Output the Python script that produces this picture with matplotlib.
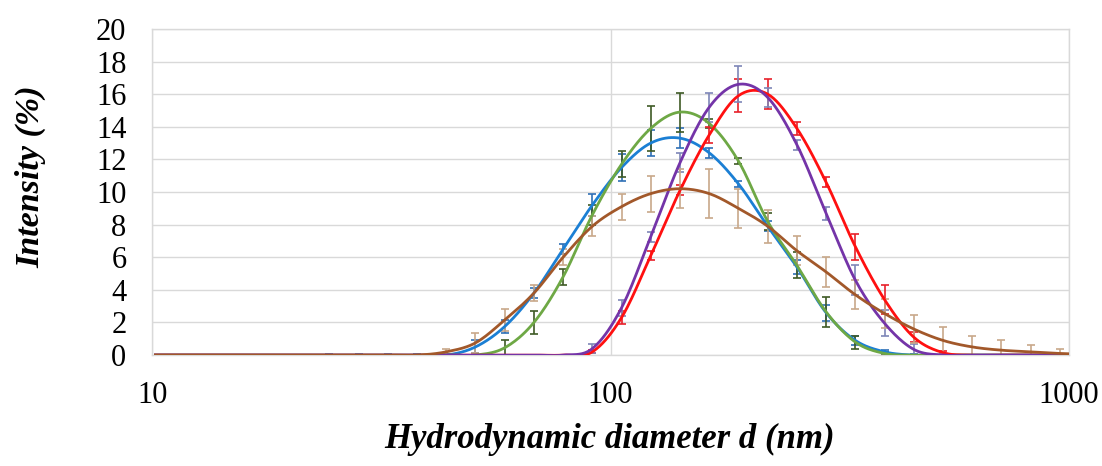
import matplotlib
matplotlib.use("Agg")
import matplotlib.pyplot as plt
import numpy as np

# size classes (nm)
sizes = [10.10, 11.70, 13.54, 15.69, 18.17, 21.04, 24.36, 28.21, 32.67, 37.84,
         43.82, 50.75, 58.77, 68.06, 78.82, 91.28, 105.7, 122.4, 141.8, 164.2,
         190.1, 220.2, 255.0, 295.3, 342.0, 396.1, 458.7, 531.2, 615.1, 712.4,
         825.0, 955.4, 1106]

blue = [0, 0, 0, 0, 0, 0, 0, 0, 0, 0, 0, 0.5, 1.75, 3.8, 6.5, 9.2, 11.5, 13.0, 13.3,
        12.4, 10.5, 7.9, 5.4, 2.6, 0.9, 0.2, 0, 0, 0, 0, 0, 0, 0]
blue_err = [0, 0, 0, 0, 0, 0, 0.05, 0.05, 0.05, 0.05, 0.05, 0.4, 0.4, 0.3, 0.3, 0.7,
            0.8, 0.8, 0.6, 0.3, 0.2, 0.3, 0.4, 0.5, 0.3, 0.1, 0.05, 0, 0, 0, 0, 0, 0]

green = [0, 0, 0, 0, 0, 0, 0, 0, 0, 0, 0, 0, 0.45, 2.0, 4.8, 8.6, 11.7, 13.9, 14.9,
         14.2, 11.9, 8.2, 5.5, 2.65, 0.8, 0.1, 0, 0, 0, 0, 0, 0, 0]
green_err = [0, 0, 0, 0, 0, 0, 0, 0, 0, 0, 0, 0.05, 0.5, 0.7, 0.5, 0.6, 0.8, 1.4, 1.2,
             0.3, 0.2, 0.5, 0.8, 0.9, 0.4, 0.1, 0, 0, 0, 0, 0, 0, 0]

brown = [0, 0, 0, 0, 0, 0, 0, 0, 0, 0, 0.2, 0.75, 2.15, 3.8, 6.0, 7.9, 9.1, 9.9, 10.2,
         9.9, 9.0, 7.9, 6.4, 5.1, 3.7, 2.55, 1.6, 0.9, 0.5, 0.3, 0.2, 0.1, 0.05]
brown_err = [0, 0, 0, 0, 0, 0, 0, 0, 0, 0, 0.2, 0.6, 0.7, 0.5, 0.5, 0.6, 0.8, 1.1, 1.2,
             1.5, 1.2, 1.0, 0.9, 0.9, 0.9, 0.9, 0.85, 0.85, 0.7, 0.6, 0.4, 0.25, 0]

purple = [0, 0, 0, 0, 0, 0, 0, 0, 0, 0, 0, 0, 0, 0, 0, 0.4, 2.9, 7.25, 11.8,
          15.2, 16.6, 15.8, 12.9, 8.7, 4.6, 1.95, 0.35, 0, 0, 0, 0, 0, 0]
purple_err = [0, 0, 0, 0, 0, 0, 0, 0, 0, 0, 0, 0, 0, 0, 0, 0.3, 0.5, 0.3, 0.6,
              0.9, 1.1, 0.6, 0.3, 0.4, 0.9, 0.8, 0.3, 0, 0, 0, 0, 0, 0]

red = [0, 0, 0, 0, 0, 0, 0, 0, 0, 0, 0, 0, 0, 0, 0, 0.2, 2.3, 6.1, 10.1,
       13.5, 15.9, 16.0, 13.9, 10.6, 6.65, 3.4, 1.1, 0.15, 0, 0, 0, 0, 0]
red_err = [0, 0, 0, 0, 0, 0, 0, 0, 0, 0, 0, 0, 0, 0, 0, 0.1, 0.4, 0.3, 0.3,
           0.5, 1.0, 0.9, 0.4, 0.3, 0.8, 0.9, 0.3, 0.1, 0, 0, 0, 0, 0]

series = [
    (blue, blue_err, "#1B7FD4", "#2F6FB5"),
    (green, green_err, "#6EA845", "#3E5A25"),
    (red, red_err, "#FF1010", "#E8202A"),
    (purple, purple_err, "#7434A8", "#7E86B8"),
    (brown, brown_err, "#A2582A", "#C8A88A"),
]


def smooth(xs, ys, n=20):
    # Catmull-Rom through the points in log-x, like Excel's smoothed line
    lx = np.log10(xs)
    ys = np.asarray(ys, float)
    px = np.concatenate([[lx[0]], lx, [lx[-1]]])
    py = np.concatenate([[ys[0]], ys, [ys[-1]]])
    t = np.linspace(0, 1, n, endpoint=False)
    ox, oy = [], []
    for i in range(1, len(px) - 2):
        for p, o in ((px, ox), (py, oy)):
            p0, p1, p2, p3 = p[i - 1], p[i], p[i + 1], p[i + 2]
            o.extend(0.5 * (2 * p1 + (-p0 + p2) * t
                            + (2 * p0 - 5 * p1 + 4 * p2 - p3) * t ** 2
                            + (-p0 + 3 * p1 - 3 * p2 + p3) * t ** 3))
    ox.append(lx[-1])
    oy.append(ys[-1])
    return 10 ** np.array(ox), np.array(oy)


plt.rcParams['font.family'] = ['Liberation Serif', 'DejaVu Serif']

fig = plt.figure(figsize=(11.02, 4.66), dpi=100)
ax = fig.add_axes([0.138, 0.238, 0.832, 0.700])

xs = np.array(sizes)
for vals, errs, lc, ec in series:
    vals = np.array(vals)
    errs = np.array(errs)
    m = errs > 0
    ax.errorbar(xs[m], vals[m], yerr=errs[m], fmt='none', ecolor=ec,
                elinewidth=1.2, capsize=3.2, capthick=1.2, zorder=2)
    sx, sy = smooth(xs, vals)
    ax.plot(sx, sy, color=lc, lw=2.0, zorder=3, solid_capstyle='butt')

ax.set_xscale('log')
ax.set_xlim(10, 1000)
ax.set_ylim(0, 20)
ax.set_yticks(range(0, 21, 2))
ax.set_xticks([10, 100, 1000])
ax.set_xticklabels(['10', '100', '1000'])
ax.minorticks_off()
ax.tick_params(length=0, labelsize=22, colors='black')
ax.tick_params(axis='x', pad=19)
ax.tick_params(axis='y', pad=18.5)
ax.grid(True, color='#D9D9D9', lw=1.0)
ax.set_axisbelow(True)
for s in ax.spines.values():
    s.set_color('#D9D9D9')
    s.set_linewidth(1.0)

fig.text(0.028, 0.62, 'Intensity (%)', rotation=90, ha='center', va='center',
         fontsize=24.5, fontweight='bold', fontstyle='italic')
fig.text(0.553, 0.057, 'Hydrodynamic diameter d (nm)', ha='center', va='center',
         fontsize=25, fontweight='bold', fontstyle='italic')

fig.savefig('out.png', dpi=100)
